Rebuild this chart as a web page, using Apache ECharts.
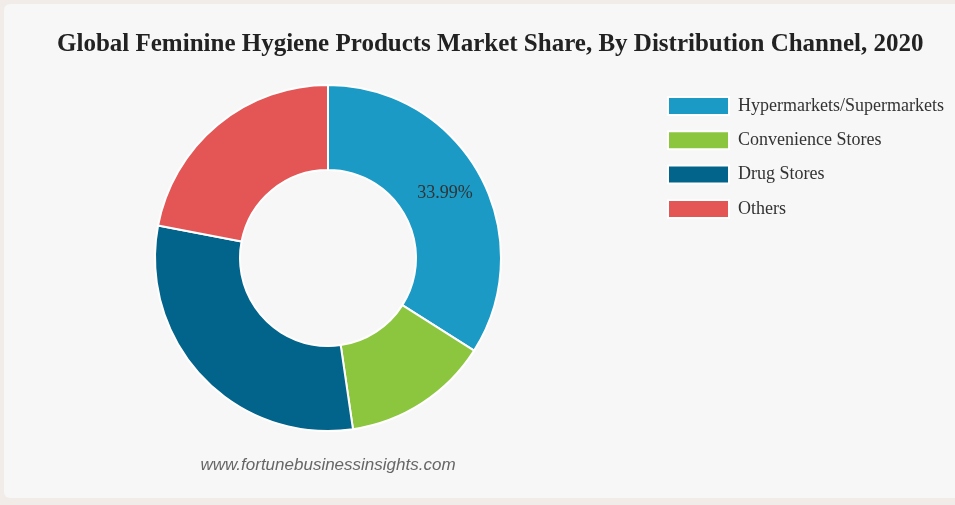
<!DOCTYPE html>
<html>
<head>
<meta charset="utf-8">
<script src="https://cdn.jsdelivr.net/npm/echarts@6/dist/echarts.min.js"></script>
<style>
  html, body { margin: 0; padding: 0; background: #f1ece8; overflow: hidden; }
  #panel { position: absolute; left: 4px; top: 4px; width: 960px; height: 494px;
           background: #f7f7f7; border-radius: 6px; }
  #main { position: absolute; left: -4px; top: -4px; width: 955px; height: 505px; }
</style>
</head>
<body>
<div id="panel"><div id="main"></div></div>
<script>
// 分销渠道及份额 (%)
const channels = ['Hypermarkets/Supermarkets', 'Convenience Stores', 'Drug Stores', 'Others'];
const shares = [33.99, 13.7, 30.3, 22.0];
const colors = ['#1b9ac5', '#8cc63f', '#02638b', '#e45656'];

let chart = echarts.init(document.getElementById('main'));

let seriesData = channels.map((name, i) => {
  return {
    name: name,
    value: shares[i],
    // 只显示第一块的百分比
    label: { show: i === 0 }
  };
});

let option = {
  color: colors,
  title: {
    text: 'Global Feminine Hygiene Products Market Share, By Distribution Channel, 2020',
    left: 52,
    top: 27,
    textStyle: {
      fontFamily: 'Liberation Serif',
      fontWeight: 'bold',
      fontSize: 25,
      color: '#222'
    }
  },
  legend: {
    orient: 'vertical',
    left: 662,
    top: 91,
    itemWidth: 61,
    itemHeight: 18,
    itemGap: 14.3,
    icon: 'rect',
    data: channels,
    textStyle: {
      fontFamily: 'Liberation Serif',
      fontSize: 18,
      color: '#333',
      padding: [0, 0, 0, 4]
    }
  },
  graphic: [{
    type: 'text',
    style: {
      text: 'www.fortunebusinessinsights.com',
      x: 328,
      y: 465,
      align: 'center',
      verticalAlign: 'middle',
      font: 'italic 17px "Liberation Sans"',
      fill: '#666'
    }
  }],
  series: [{
    type: 'pie',
    center: [328, 258],
    radius: [88, 173],
    startAngle: 90,
    clockwise: true,
    avoidLabelOverlap: false,
    itemStyle: {
      borderColor: '#ffffff',
      borderWidth: 2
    },
    label: {
      position: 'inside',
      formatter: '{c}%',
      fontFamily: 'Liberation Serif',
      fontSize: 18,
      color: '#333'
    },
    labelLine: { show: false },
    emphasis: { scale: false },
    data: seriesData
  }]
};

chart.setOption(option);
</script>
</body>
</html>
